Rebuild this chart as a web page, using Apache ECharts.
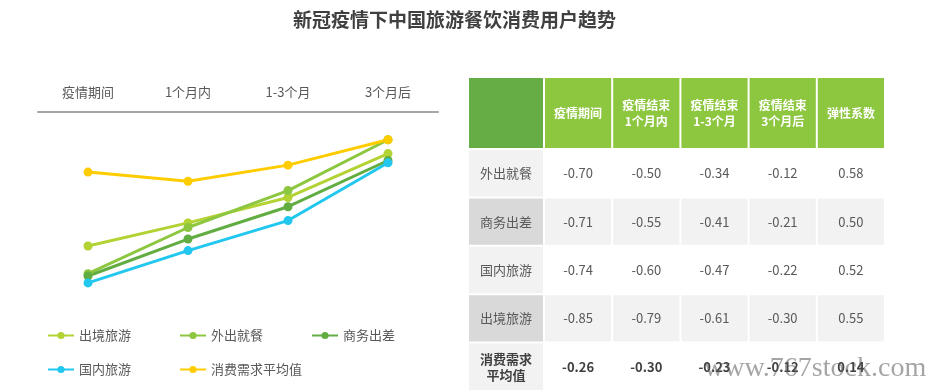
<!DOCTYPE html>
<html>
<head>
<meta charset="utf-8">
<script src="https://cdn.jsdelivr.net/npm/echarts@6/dist/echarts.min.js"></script>
<style>html,body{margin:0;padding:0;background:#fff;}#main{width:930px;height:392px;}</style>
</head>
<body>
<div id="main"></div>
<script>
// ---------- data ----------
var titleText = '新冠疫情下中国旅游餐饮消费用户趋势';
var lineCategories = ['疫情期间', '1个月内', '1-3个月', '3个月后'];
var seriesNames = ['出境旅游', '外出就餐', '商务出差', '国内旅游', '消费需求平均值'];
var lineOutbound = [-0.58, -0.48, -0.37, -0.18];
var lineDining = [-0.70, -0.50, -0.34, -0.12];
var lineBusiness = [-0.71, -0.55, -0.41, -0.21];
var lineDomestic = [-0.74, -0.60, -0.47, -0.22];
var lineAverage = [-0.26, -0.30, -0.23, -0.12];

var tableColHeaders = ['疫情期间', '疫情结束\n1个月内', '疫情结束\n1-3个月', '疫情结束\n3个月后', '弹性系数'];
var tableRowLabels = ['外出就餐', '商务出差', '国内旅游', '出境旅游', '消费需求\n平均值'];
var tDining = [-0.70, -0.50, -0.34, -0.12, 0.58];
var tBusiness = [-0.71, -0.55, -0.41, -0.21, 0.50];
var tDomestic = [-0.74, -0.60, -0.47, -0.22, 0.52];
var tOutbound = [-0.85, -0.79, -0.61, -0.30, 0.55];
var tAverage = [-0.26, -0.30, -0.23, -0.12, 0.14];
var watermarkText = 'www.767stock.com';

// ---------- build ----------
var FONT = '"Noto Sans CJK SC", "Noto Sans", sans-serif';
var colors = ['#b3d334', '#8dc63f', '#62ad42', '#22c7ef', '#ffcc00'];
var lineData = [lineOutbound, lineDining, lineBusiness, lineDomestic, lineAverage];
var tableRows = [tDining, tBusiness, tDomestic, tOutbound, tAverage];

var bodyValueData = [], bodyValueText = [];
tableRows.forEach(function (row, r) {
  row.forEach(function (v, c) { bodyValueData.push([c, r]); bodyValueText.push(v.toFixed(2)); });
});
var bodyLabelData = tableRowLabels.map(function (t, r) { return [0, r]; });
var headValueData = tableColHeaders.map(function (t, c) { return [c, 0]; });
var headLabelData = [[0, 0]];

function cellRenderer(kind, texts) {
  return function (params, api) {
    var x = api.value(0), y = api.value(1);
    var c = api.coord([x, y]);
    var s = api.size([1, 1]);
    var text = texts[params.dataIndex] || '';
    var fill, color = '#595959', weight = 'normal', size = 13, lh = 16;
    if (kind === 'headLabel') { fill = '#67ad45'; }
    else if (kind === 'head') { fill = '#8dc63f'; color = '#ffffff'; weight = 'bold'; size = 12; lh = 16; }
    else if (kind === 'label') {
      fill = (y % 2 === 1) ? '#d9d9d9' : '#f2f2f2';
      if (y === 4) { weight = 'bold'; color = '#404040'; }
    } else {
      fill = (y % 2 === 1) ? '#f2f2f2' : '#ffffff';
      if (y === 4) { weight = 'bold'; color = '#404040'; }
    }
    var x0 = c[0] - s[0] / 2, y0 = c[1] - s[1] / 2;
    return {
      type: 'group',
      children: [
        { type: 'rect', shape: { x: x0, y: y0, width: s[0] - 2, height: s[1] - 2 }, style: { fill: fill } },
        { type: 'text', x: x0 + (s[0] - 2) / 2, y: y0 + (s[1] - 2) / 2,
          style: { text: text, fill: color, align: 'center', verticalAlign: 'middle',
                   fontSize: size, fontWeight: weight, fontFamily: FONT, lineHeight: lh } }
      ]
    };
  };
}

function hiddenCat(data, gridIndex, inverse) {
  return { type: 'category', data: data, gridIndex: gridIndex, inverse: !!inverse,
           axisLine: { show: false }, axisTick: { show: false }, axisLabel: { show: false }, splitLine: { show: false } };
}

var rowIdx = tableRowLabels.map(function (_, i) { return i; });

var option = {
  animation: false,
  backgroundColor: '#ffffff',
  title: {
    text: titleText, left: 288, top: 5,
    textStyle: { fontSize: 19, fontWeight: 'bold', color: '#404040', fontFamily: FONT }
  },
  legend: [
    { data: seriesNames.slice(0, 3), left: 47, top: 329, padding: 0, itemWidth: 26, itemHeight: 9, itemGap: 48,
      textStyle: { fontSize: 13, color: '#595959', fontFamily: FONT } },
    { data: seriesNames.slice(3), left: 47, top: 363, padding: 0, itemWidth: 26, itemHeight: 9, itemGap: 48,
      textStyle: { fontSize: 13, color: '#595959', fontFamily: FONT } }
  ],
  grid: [
    { left: 38, top: 112, width: 400, height: 231 },
    { left: 469, top: 78, width: 76, height: 72 },
    { left: 545, top: 78, width: 341, height: 72 },
    { left: 469, top: 150, width: 76, height: 246 },
    { left: 545, top: 150, width: 341, height: 246 }
  ],
  xAxis: [
    { type: 'category', data: lineCategories, position: 'top', gridIndex: 0,
      axisLine: { lineStyle: { color: '#a6a6a6', width: 2 } }, axisTick: { show: false },
      axisLabel: { color: '#595959', fontSize: 13, margin: 13, fontFamily: FONT } },
    hiddenCat([''], 1),
    hiddenCat(tableColHeaders, 2),
    hiddenCat([''], 3),
    hiddenCat(tableColHeaders, 4)
  ],
  yAxis: [
    { type: 'value', min: -1, max: 0, gridIndex: 0, show: false },
    hiddenCat([''], 1, true),
    hiddenCat([''], 2, true),
    hiddenCat(rowIdx, 3, true),
    hiddenCat(rowIdx, 4, true)
  ],
  series: seriesNames.map(function (n, i) {
    return { type: 'line', name: n, data: lineData[i], xAxisIndex: 0, yAxisIndex: 0,
             symbol: 'circle', symbolSize: 9, showSymbol: true,
             itemStyle: { color: colors[i] }, lineStyle: { color: colors[i], width: 3 } };
  }).concat([
    { type: 'custom', xAxisIndex: 1, yAxisIndex: 1, data: headLabelData, renderItem: cellRenderer('headLabel', ['']) },
    { type: 'custom', xAxisIndex: 2, yAxisIndex: 2, data: headValueData, renderItem: cellRenderer('head', tableColHeaders) },
    { type: 'custom', xAxisIndex: 3, yAxisIndex: 3, data: bodyLabelData, renderItem: cellRenderer('label', tableRowLabels) },
    { type: 'custom', xAxisIndex: 4, yAxisIndex: 4, data: bodyValueData, renderItem: cellRenderer('value', bodyValueText) }
  ]),
  graphic: [
    { type: 'text', left: 704, top: 355, z: 100,
      style: { text: watermarkText, fontSize: 28, fontFamily: '"Liberation Serif", "DejaVu Serif", serif',
               fill: 'rgba(90,90,90,0.55)' } }
  ]
};

var chart = echarts.init(document.getElementById('main'), null, { renderer: 'canvas' });
chart.setOption(option);
</script>
</body>
</html>
